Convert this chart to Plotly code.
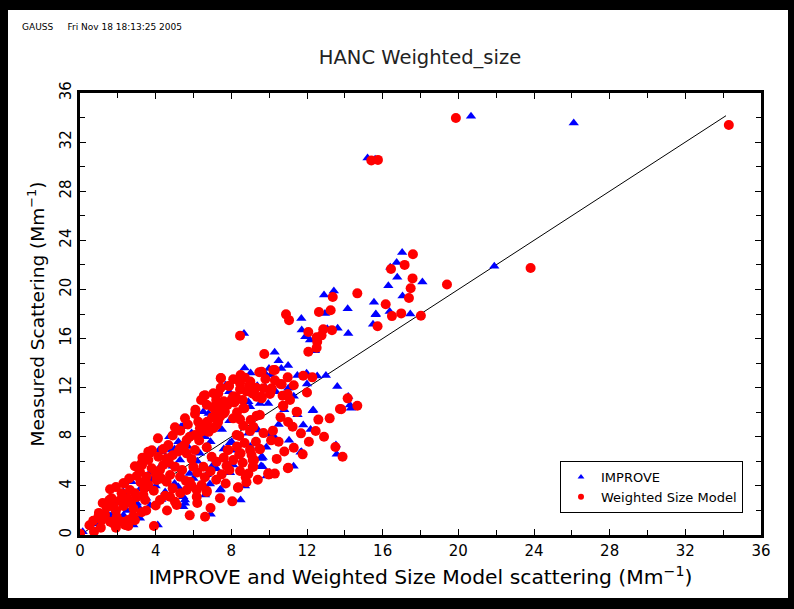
import plotly.graph_objects as go

# IMPROVE (blue triangles)
improve_x = [20.67, 26.1, 15.2, 15.6, 21.9, 17.03, 16.74, 16.4, 16.77, 18.1, 16.3, 17.05, 15.54, 15.64, 16.37, 17.46, 15.49,
             12.9, 13.42, 14.15, 12.95, 15.63, 11.7, 11.72, 13.07, 13.62, 14.18, 11.91, 12.16, 12.42, 10.29, 8.67,
             10.64, 9.99, 11.49, 11.98, 12.54, 10.08, 9.78, 10.36, 11.01, 10.92, 9.95, 12.3, 14.18, 14.27, 14.32, 11.8, 12.19,
             11.05, 10.31, 9.85, 13.53, 13.57, 11.66, 9.6, 9.66, 11.29, 10.03,
             9.02, 9.78, 9.37, 8.9, 9.51, 7.31, 7.89, 7.01, 6.52, 9.48, 12.33, 9.34, 7.93, 9.66, 8.1, 9.57, 11.71, 9.87, 7.93,
             8.72, 7.44, 6.87, 8.49, 6.91, 8.99, 7.01,
             5.41, 6.87, 4.72, 6.61, 4.18, 5.29, 6.34, 6.96, 7.22, 4.4, 6.52, 5.55, 5.46, 2.73, 2.29, 3.17, 3.08, 3.17, 1.5,
             1.76, 4.11, 0.14, 4.85, 2.82, 5.34, 4.32, 1.85, 7.4, 6.61, 5.46, 5.55, 7.75, 8.02, 8.9, 9.34, 8.99, 9.78,
             3.5, 4.0, 4.5, 5.0, 5.8, 6.2, 3.8, 4.9, 5.7, 6.9, 7.5, 7.9, 3.0, 2.5, 2.0, 1.2, 9.6, 9.6,
             2.4, 3.3, 3.7, 4.2, 4.6, 5.0, 5.2, 5.9, 6.3, 6.8, 7.3, 7.7, 8.4, 8.7, 1.0, 1.6, 2.3, 3.7, 4.3, 4.9,
             5.2, 6.0, 6.7, 7.0, 7.6, 8.2, 8.6, 9.0, 10.0, 10.5, 10.8, 11.5, 11.3, 12.0, 13.0, 13.6, 11.0, 10.5]
improve_y = [34.1, 33.55, 30.7, 30.6, 21.88, 23.0, 22.2, 21.8, 21.0, 20.6, 20.3, 19.46, 18.95, 18.0, 18.2, 18.0, 17.16,
             19.54, 19.87, 18.43, 18.05, 17.94, 17.64, 16.7, 16.8, 16.83, 16.42, 16.15, 15.88, 15.0, 14.88, 16.42,
             13.57, 13.57, 13.0, 13.17, 12.95, 13.03, 12.08, 11.67, 11.95, 11.46, 10.72, 10.12, 11.29, 10.59, 10.32, 8.96, 8.6,
             7.71, 7.93, 7.14, 7.33, 6.57, 6.73, 6.24, 5.56, 5.59, 5.1,
             13.19, 13.17, 12.16, 10.86, 10.72, 11.67, 11.67, 10.37, 10.04, 9.85, 10.18, 8.55, 7.52, 6.32, 5.7, 5.62, 6.78, 4.8, 5.07,
             3.99, 3.72, 4.15, 2.85, 1.69, 12.08, 11.48,
             8.82, 9.58, 8.0, 8.0, 6.92, 6.11, 6.65, 5.56, 5.4, 4.48, 3.8, 2.85, 2.3, 4.34, 3.53, 3.72, 2.3, 1.36, 1.63,
             1.82, 0.81, 0.27, 6.92, 0.81, 8.82, 6.78, 3.8, 3.66, 3.26, 3.12, 2.58, 5.84, 7.6, 8.28, 8.69, 10.45, 11.81,
             3.0, 4.0, 3.5, 4.2, 5.0, 6.0, 4.5, 5.6, 7.2, 7.6, 8.6, 9.3, 2.6, 2.0, 2.6, 1.3, 6.38, 5.56,
             2.9, 3.3, 5.1, 5.5, 6.2, 7.0, 7.6, 8.3, 9.3, 9.9, 10.8, 12.2, 12.6, 13.6, 0.9, 1.3, 1.6, 2.4, 2.9, 3.0,
             3.9, 4.6, 4.9, 6.2, 7.0, 6.9, 6.0, 7.2, 8.2, 9.0, 10.2, 9.8, 11.3, 12.3, 13.0, 12.1, 13.8, 14.2]

# Weighted Size Model (red circles)
weighted_x = [19.87, 34.3, 15.4, 15.75, 23.82, 19.4, 17.6, 17.16, 16.44, 17.58, 17.48, 17.39, 16.16, 16.49, 16.98, 18.02, 15.73,
              13.36, 14.66, 13.25, 12.63, 10.89, 11.05, 12.07, 12.86, 13.32, 12.77, 12.51, 12.54, 12.51, 12.07, 9.74, 8.46,
              10.3, 9.6, 10.98, 11.8, 12.28, 9.69, 10.6, 10.04, 10.71, 9.58, 10.73, 11.47, 14.15, 13.81, 14.66, 11.24, 11.68, 12.46,
              10.1, 10.5, 9.51, 13.5, 13.88, 11.77, 10.99, 9.97,
              7.45, 8.1, 8.49, 8.72, 9.48, 7.88, 7.44, 8.46, 8.93, 10.66, 10.08, 9.6, 10.75, 10.98, 8.46, 9.1, 8.25, 8.16, 7.58,
              8.69, 6.55, 7.05, 7.66, 7.4, 8.1, 8.46, 9.34, 9.02, 11.45, 13.74, 8.63, 8.99, 7.05, 8.42, 7.84, 8.49, 9.51, 9.07,
              9.2, 8.6, 7.75, 9.13, 11.01, 9.99, 8.46, 7.49, 8.76, 8.37, 6.7, 8.05, 6.61,
              5.55, 6.08, 7.05, 5.02, 6.25, 6.73, 7.22, 6.34, 4.12, 4.67, 5.64, 6.08, 5.29, 3.7, 3.61, 4.14, 4.58, 5.02, 5.64,
              6.08, 6.7, 6.96, 6.52, 5.99, 7.22, 3.26, 3.17, 3.79, 4.23, 3.52, 4.05, 4.76, 4.58, 5.29, 5.81, 5.64, 6.17, 6.43,
              6.7, 4.76, 4.23, 5.02, 5.11, 2.29, 1.59, 2.2, 2.64, 2.91, 3.44, 3.35, 1.67, 1.76, 1.41, 2.29, 2.82, 3.26, 2.82,
              2.55, 1.94, 2.2, 2.38, 2.55, 1.76, 1.32, 0.97, 0.7, 1.15, 1.59, 0.74, 3.91, 0.0,
              7.44, 6.61, 7.31, 7.86, 7.01, 7.6, 8.1, 9.15, 7.47, 3.61, 3.28, 2.34, 1.55, 8.35, 8.99, 9.13, 9.16, 9.95, 6.17,
              8.42, 7.81, 8.28, 9.16, 9.51, 9.6, 8.63, 9.34, 10.13, 10.22,
              1.0, 1.2, 1.9, 2.1, 2.5, 2.7, 3.0, 3.2, 3.4, 3.6, 3.9, 4.0, 4.3, 4.4, 4.7, 4.9, 5.2, 5.4, 5.5, 5.8,
              5.9, 6.3, 6.4, 6.6, 6.8, 7.0, 7.2, 7.3, 7.6, 7.8, 8.0, 8.3, 8.6, 8.8, 9.0, 9.3, 9.8, 10.3,
              4.5, 4.9, 5.3, 5.6, 5.9, 6.2, 6.6, 6.9, 7.2, 7.6, 7.9, 8.1, 8.3, 8.7, 8.9, 9.3, 9.7, 10.2, 10.6, 11.0,
              3.0, 2.6, 1.9, 3.8, 4.4, 4.9, 5.3, 5.7, 6.1, 6.7, 6.4, 7.2, 3.3, 2.9, 1.1, 0.5, 1.9, 2.9, 3.5, 4.0,
              4.6, 6.2, 5.8, 6.9, 7.4, 7.7, 8.8, 9.4, 10.3, 10.4, 10.8, 11.3, 12.1, 12.9, 12.6, 13.2, 12.0, 11.3, 11.1]
weighted_y = [33.96, 33.4, 30.5, 30.55, 21.74, 20.4, 22.86, 22.0, 21.66, 20.9, 20.1, 19.3, 18.8, 17.83, 18.05, 17.86, 17.0,
              19.38, 19.68, 18.3, 18.16, 17.97, 17.5, 16.53, 16.75, 16.67, 16.26, 16.1, 15.74, 15.25, 14.93, 14.74, 16.23,
              13.44, 13.3, 12.84, 12.97, 12.84, 11.95, 12.3, 11.48, 11.35, 11.27, 10.53, 10.02, 11.13, 10.24, 10.53, 8.82, 8.28, 8.47,
              7.71, 7.6, 6.98, 7.17, 6.38, 6.57, 5.43, 4.94,
              12.78, 12.68, 13.03, 12.81, 13.25, 12.13, 12.0, 12.35, 12.13, 12.27, 11.67, 11.18, 10.5, 11.48, 11.86, 11.54, 11.21, 10.8, 10.64,
              10.32, 11.35, 11.54, 10.04, 9.63, 9.5, 9.42, 9.72, 9.37, 10.04, 10.26, 8.9, 8.47, 8.69, 8.06, 6.92, 6.65, 7.0, 6.51,
              6.1, 5.89, 5.62, 5.56, 5.48, 4.94, 5.21, 4.94, 4.7, 3.88, 3.61, 2.74, 1.49,
              9.5, 9.85, 10.4, 8.77, 9.23, 9.23, 8.96, 8.69, 7.87, 7.33, 7.74, 8.14, 7.06, 6.7, 6.11, 6.38, 6.25, 5.56, 6.65,
              6.92, 7.14, 6.38, 5.56, 5.56, 5.97, 5.84, 5.15, 5.43, 5.29, 4.75, 4.48, 4.89, 4.34, 4.75, 4.34, 3.66, 3.66, 4.07,
              3.5, 3.12, 2.85, 2.71, 2.44, 4.21, 3.72, 3.4, 3.66, 3.4, 2.85, 3.26, 2.99, 2.3, 2.25, 2.36, 2.17, 1.85, 1.55,
              1.22, 1.49, 1.08, 0.81, 0.73, 0.95, 1.63, 1.49, 1.16, 1.22, 1.08, 0.27, 0.73, 0.1,
              12.76, 11.38, 11.54, 12.13, 10.4, 10.9, 11.3, 11.5, 10.5, 6.78, 5.7, 4.21, 2.85, 3.85, 6.92, 6.11, 5.56, 5.02, 3.12,
              6.57, 6.92, 8.14, 8.82, 9.77, 11.13, 10.32, 11.26, 11.95, 13.44,
              1.8, 2.6, 2.0, 2.8, 3.0, 2.6, 3.1, 4.3, 3.8, 4.1, 3.6, 5.0, 4.6, 5.7, 5.9, 6.5, 6.8, 5.3, 7.3, 8.0,
              6.2, 7.7, 8.4, 9.0, 8.4, 9.6, 10.0, 9.2, 9.9, 10.6, 11.0, 10.0, 11.0, 11.7, 12.5, 12.0, 12.7, 12.6,
              3.2, 3.8, 3.4, 4.4, 4.0, 5.1, 4.7, 5.2, 4.5, 6.3, 5.3, 6.1, 7.2, 7.5, 5.0, 7.6, 8.3, 8.5, 9.6, 9.2,
              4.8, 4.6, 3.9, 6.9, 7.0, 8.1, 8.5, 9.0, 10.2, 10.6, 11.0, 11.0, 6.3, 5.6, 0.6, 0.8, 0.6, 1.2, 2.0, 2.4,
              2.0, 2.6, 1.6, 2.2, 3.0, 4.2, 4.3, 4.5, 5.0, 6.2, 6.8, 7.1, 7.6, 8.0, 9.4, 9.5, 11.6, 12.2, 11.0]

fit_x = [0.0, 34.15]
fit_y = [0.0, 34.15]

xticks = [0, 4, 8, 12, 16, 20, 24, 28, 32, 36]
yticks = [0, 4, 8, 12, 16, 20, 24, 28, 32, 36]

FONT = "DejaVu Sans"
BLUE = "#0000ff"
RED = "#ff0000"

fig = go.Figure()
fig.add_trace(go.Scatter(x=fit_x, y=fit_y, mode="lines", line=dict(color="black", width=1),
                         showlegend=False, hoverinfo="skip"))
fig.add_trace(go.Scatter(x=improve_x, y=improve_y, mode="markers", name="IMPROVE", showlegend=False,
                         marker=dict(symbol="triangle-up", color=BLUE, size=9, line=dict(width=0))))
fig.add_trace(go.Scatter(x=weighted_x, y=weighted_y, mode="markers", name="Weighted Size Model", showlegend=False,
                         marker=dict(symbol="circle", color=RED, size=10, line=dict(width=0))))
# legend entries with the small legend symbols
fig.add_trace(go.Scatter(x=[None], y=[None], mode="markers", name="IMPROVE",
                         marker=dict(symbol="triangle-up", color=BLUE, size=6, line=dict(width=0))))
fig.add_trace(go.Scatter(x=[None], y=[None], mode="markers", name="Weighted Size Model",
                         marker=dict(symbol="circle", color=RED, size=6, line=dict(width=0))))

W, H = 794, 609
L, R, T, B = 80, 761, 93, 535
pw, ph = R - L, B - T

def px(x):
    return (x - L) / pw

def py(y):
    return (B - y) / ph

shapes = []
for x0, y0, x1, y1 in [(0, 0, 8, H), (788, 0, W, H), (0, 0, W, 10), (0, 598, W, H)]:
    shapes.append(dict(type="rect", xref="paper", yref="paper", x0=px(x0), x1=px(x1), y0=py(y1), y1=py(y0),
                       fillcolor="black", line=dict(width=0), layer="above"))

axis_common = dict(range=[0, 36], ticks="inside", ticklen=6, tickwidth=1, tickcolor="black",
                   showline=True, linecolor="black", linewidth=2.5, mirror="allticks", showgrid=False, zeroline=False,
                   automargin=False,
                   minor=dict(dtick=2, ticks="inside", ticklen=5, tickcolor="black", tickwidth=1, showgrid=False),
                   tickfont=dict(family=FONT, size=15, color="black"))

fig.update_layout(
    width=W, height=H,
    margin=dict(l=L, r=W - R, t=T, b=H - B, autoexpand=False),
    paper_bgcolor="white", plot_bgcolor="white",
    title=dict(text="HANC Weighted_size", x=(420 - L) / pw, xref="paper", xanchor="center",
               yref="container", y=1 - 57 / H, yanchor="middle",
               font=dict(family=FONT, size=19.5, color="#222")),
    xaxis=dict(**axis_common, tickvals=xticks,
               title=dict(text="IMPROVE and Weighted Size Model scattering (Mm<sup>−1</sup>)",
                          font=dict(family=FONT, size=20.3, color="black"), standoff=12)),
    yaxis=dict(**axis_common, tickvals=yticks, tickangle=-90,
               title=dict(text="Measured Scattering (Mm<sup>−1</sup>)",
                          font=dict(family=FONT, size=18.5, color="black"), standoff=8)),
    legend=dict(x=px(560), y=py(461), xanchor="left", yanchor="top", bordercolor="black", borderwidth=1,
                bgcolor="white", font=dict(family=FONT, size=13, color="black"), tracegroupgap=0,
                itemsizing="trace", itemwidth=30),
    shapes=shapes,
    annotations=[dict(text="GAUSS     Fri Nov 18 18:13:25 2005", xref="paper", yref="paper", x=px(20), y=py(27),
                      xanchor="left", yanchor="middle", showarrow=False,
                      font=dict(family=FONT, size=9, color="black"))],
)

fig.write_html("out.html", config={"displayModeBar": False},
               post_script="document.body.style.margin='0';")
